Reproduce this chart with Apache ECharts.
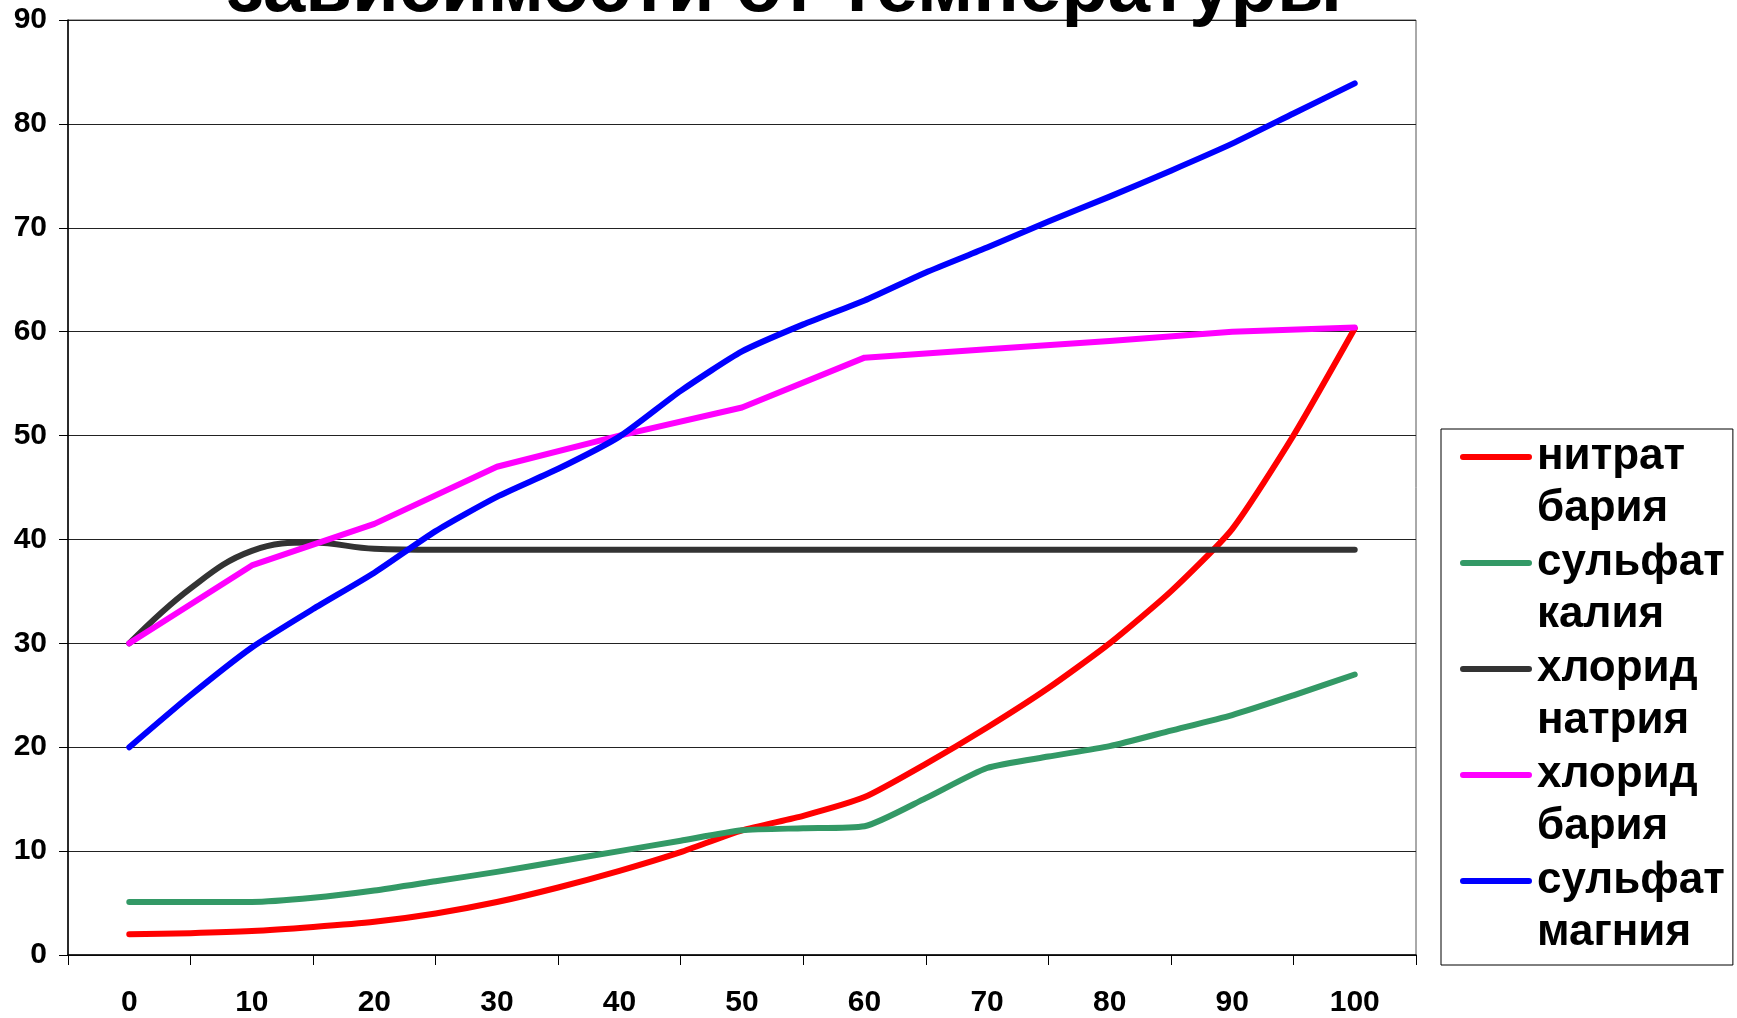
<!DOCTYPE html>
<html>
<head>
<meta charset="utf-8">
<script src="https://cdn.jsdelivr.net/npm/echarts@6/dist/echarts.min.js"></script>
<style>
html,body{margin:0;padding:0;background:#fff;}
#chart{width:1737px;height:1018px;}
</style>
</head>
<body>
<div id="chart"></div>
<script>
// ---- data ----
const titleText = 'зависимости от температуры';
const categories = ['0','10','20','30','40','50','60','70','80','90','100'];
const temps5  = [0,5,10,15,20,25,30,35,40,45,50,55,60,65,70,75,80,85,90,95,100];
const temps10 = [0,10,20,30,40,50,60,70,80,90,100];

const names = ['нитрат бария','сульфат калия','хлорид натрия','хлорид бария','сульфат магния'];

// нитрат бария (by temps5)
const bariumNitrate = [2.0,2.1,2.3,2.7,3.2,4.0,5.1,6.5,8.1,9.9,12.0,13.4,15.2,18.4,21.9,25.7,30.0,35.0,41.0,50.0,60.3];
// сульфат калия (by temps5)
const potassiumSulfate = [5.1,5.1,5.1,5.5,6.2,7.1,8.0,9.0,10.0,11.0,12.0,12.2,12.4,15.1,18.0,19.1,20.1,21.6,23.1,25.0,27.0];
// хлорид натрия (by temps5)
const sodiumChloride = [30,35.3,38.9,39.7,39.1,39,39,39,39,39,39,39,39,39,39,39,39,39,39,39,39];
// хлорид бария (by temps10)
const bariumChloride = [30,37.5,41.5,47,50,52.7,57.5,58.3,59.1,60.0,60.4];
// сульфат магния (by temps5)
const magnesiumSulfate = [20,25.0,29.6,33.3,36.8,40.8,44.1,46.8,49.9,54.3,58.1,60.7,63.0,65.7,68.1,70.6,73.0,75.5,78.1,81.0,83.9];

const yTicks = {min:0, max:90, step:10};

const colors = ['#FF0000','#339966','#333333','#FF00FF','#0000FF'];

function pairs(xs, ys){ return xs.map((x,i)=>[x, ys[i]]); }

const seriesData = [
  {name:names[0], data:pairs(temps5, bariumNitrate), smooth:0.2},
  {name:names[1], data:pairs(temps5, potassiumSulfate), smooth:0.2},
  {name:names[2], data:pairs(temps5, sodiumChloride), smooth:0.4},
  {name:names[3], data:pairs(temps10, bariumChloride), smooth:false},
  {name:names[4], data:pairs(temps5, magnesiumSulfate), smooth:0.2}
];

const chart = echarts.init(document.getElementById('chart'), null, {renderer:'canvas'});

const textFont = '"Liberation Sans", Arial, sans-serif';

const legendIcon = 'path://M0,0L0.1,0Z M3,23L69,23A3,3 0 0 1 69,29L3,29A3,3 0 0 1 3,23Z M0,104L0.1,104Z';

const option = {
  backgroundColor:'#ffffff',
  animation:false,
  color: colors,
  graphic:[{
    type:'text',
    x: 784, y: -10,
    z: 10,
    style:{
      text: titleText,
      font: 'bold 76px ' + textFont,
      fill:'#000',
      textAlign:'center',
      textVerticalAlign:'middle'
    }
  }],
  grid:{
    left:68, right:321, top:20, bottom:61,
    show:true, borderColor:'#555', borderWidth:1, backgroundColor:'transparent'
  },
  legend:{
    orient:'vertical',
    left:1441, top:429,
    padding:[2,8,6,19],
    itemGap:2,
    itemWidth:72, itemHeight:104,
    icon: legendIcon,
    symbolKeepAspect:false,
    borderColor:'#000', borderWidth:1,
    backgroundColor:'#fff',
    itemStyle:{borderWidth:0},
    formatter: n => n.replace(' ', '\n'),
    textStyle:{
      fontFamily: textFont, fontWeight:'bold', fontSize:44, lineHeight:52, color:'#000', padding:[0,0,0,0]
    },
    data: names
  },
  xAxis:[
    {
      type:'value', min:-5, max:105, show:false
    },
    {
      type:'category', data:categories, boundaryGap:true, position:'bottom',
      axisLine:{show:true, lineStyle:{color:'#000', width:1.5}},
      axisTick:{show:true, length:10, lineStyle:{color:'#000', width:1}},
      axisLabel:{margin:33, fontFamily:textFont, fontWeight:'bold', fontSize:30, color:'#000'},
      splitLine:{show:false}
    }
  ],
  yAxis:{
    type:'value', min:yTicks.min, max:yTicks.max, interval:yTicks.step,
    axisLine:{show:true, onZero:false, lineStyle:{color:'#000', width:1.5}},
    axisTick:{show:true, length:9, lineStyle:{color:'#000', width:1}},
    axisLabel:{margin:21, fontFamily:textFont, fontWeight:'bold', fontSize:30, color:'#000'},
    splitLine:{show:true, lineStyle:{color:'#222', width:1}}
  },
  series: seriesData.map((s,i)=>({
    name:s.name, type:'line', xAxisIndex:0, yAxisIndex:0,
    data:s.data, smooth:s.smooth, showSymbol:false, symbol:'none',
    lineStyle:{color:colors[i], width:6, cap:'round', join:'round'},
    itemStyle:{color:colors[i]},
    emphasis:{disabled:true}
  }))
};
chart.setOption(option);
</script>
</body>
</html>
